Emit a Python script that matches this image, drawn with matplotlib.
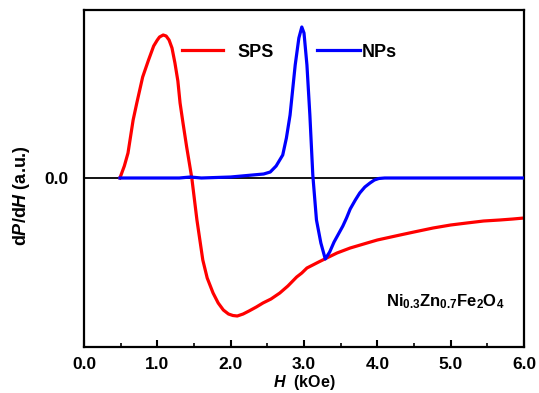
import matplotlib
matplotlib.use("Agg")
import matplotlib.pyplot as plt
from matplotlib.ticker import MultipleLocator

plt.rcParams['font.family'] = ['Liberation Sans', 'DejaVu Sans']
plt.rcParams['mathtext.fontset'] = 'custom'
plt.rcParams['mathtext.rm'] = 'Liberation Sans:bold'
plt.rcParams['mathtext.bf'] = 'Liberation Sans:bold'
plt.rcParams['mathtext.it'] = 'Liberation Sans:italic:bold'

# SPS (red) series
sps_h = [0.49, 0.55, 0.60, 0.67, 0.72, 0.80, 0.88, 0.95, 1.00, 1.03, 1.08, 1.12, 1.16,
         1.20, 1.24, 1.28, 1.31, 1.35, 1.40, 1.47, 1.54, 1.62, 1.68, 1.76, 1.83, 1.90,
         1.97, 2.03, 2.09, 2.17, 2.25, 2.35, 2.44, 2.55, 2.67, 2.78, 2.90, 2.97, 3.04,
         3.12, 3.20, 3.31, 3.45, 3.63, 3.86, 4.00, 4.31, 4.50, 4.76, 5.00, 5.22, 5.45,
         5.67, 5.85, 6.00]
sps_v = [0, 12, 25, 58, 75, 101, 118, 132, 138, 141, 143, 142, 138,
         130, 115, 97, 75, 55, 31, 0, -42, -82, -100, -115, -125, -132,
         -136, -137.5, -138, -136, -133, -129, -125, -121, -115, -108, -99, -95, -90,
         -87, -84, -80, -75, -70, -65, -62, -57, -54, -50, -47, -45, -43,
         -42, -41, -40]

# NPs (blue) series
nps_h = [0.49, 1.30, 1.45, 1.60, 2.00, 2.30, 2.45, 2.54, 2.62, 2.71, 2.76, 2.81, 2.88,
         2.93, 2.97, 3.00, 3.04, 3.08, 3.12, 3.17, 3.23, 3.29, 3.35, 3.41, 3.47, 3.53,
         3.58, 3.63, 3.70, 3.76, 3.83, 3.90, 3.96, 4.02, 4.10, 6.00]
nps_v = [0, 0, 1, 0, 1, 3, 4, 6, 12, 23, 40, 63, 113,
         140, 151, 145, 113, 63, 3, -42, -65, -81, -74, -64, -56, -48,
         -40, -31, -22, -15, -9, -5, -2, -0.5, 0, 0]

xticks = [0, 1, 2, 3, 4, 5, 6]
xticklabels = ['0.0', '1.0', '2.0', '3.0', '4.0', '5.0', '6.0']

fig = plt.figure(figsize=(5.39, 3.93), dpi=100)
ax = fig.add_axes([84/539, 1-347/393, 440/539, 337/393])

ax.axhline(0, color='black', lw=1.3, zorder=1)
l1, = ax.plot(sps_h, sps_v, color='#ff0000', lw=2.3, zorder=2, label='SPS',
              solid_joinstyle='round')
l2, = ax.plot(nps_h, nps_v, color='#0000ff', lw=2.3, zorder=3, label='NPs',
              solid_joinstyle='round')

ax.set_xlim(0, 6)
ax.set_ylim(-169, 168)

ax.set_xticks(xticks)
ax.set_xticklabels(xticklabels)
ax.xaxis.set_minor_locator(MultipleLocator(0.5))
ax.set_yticks([0])
ax.set_yticklabels(['0.0'])
ax.tick_params(axis='x', which='major', direction='in', length=5, width=1.5, pad=7,
               labelsize=12.5, top=False)
ax.tick_params(axis='x', which='minor', direction='in', length=3, width=1.2, top=False)
ax.tick_params(axis='y', which='both', length=0, pad=11, labelsize=12.5, right=False)
for lab in ax.get_xticklabels() + ax.get_yticklabels():
    lab.set_fontweight('bold')

for s in ax.spines.values():
    s.set_linewidth(1.6)

ax.set_xlabel(r'$\mathit{H}$  (kOe)', fontsize=11.5, fontweight='bold')
ax.xaxis.set_label_coords(0.5, -0.078)
ax.set_ylabel(r'd$\mathit{P}$/d$\mathit{H}$ (a.u.)', fontsize=13, fontweight='bold')
ax.yaxis.set_label_coords(-0.118, 0.45)

leg1 = ax.legend(handles=[l1], loc='center left', bbox_to_anchor=(0.2227, 0.875),
                 frameon=False, borderpad=0, borderaxespad=0, handlelength=2.28,
                 handletextpad=0.78, prop={'size': 13, 'weight': 'bold'})
ax.add_artist(leg1)
ax.legend(handles=[l2], loc='center left', bbox_to_anchor=(0.5295, 0.875),
          frameon=False, borderpad=0, borderaxespad=0, handlelength=2.4,
          handletextpad=0.1, prop={'size': 13, 'weight': 'bold'})

ax.text(0.82, 0.134, r'Ni$_{0.3}$Zn$_{0.7}$Fe$_2$O$_4$', transform=ax.transAxes,
        ha='center', va='center', fontsize=12, fontweight='bold')

fig.savefig('out.png', dpi=100)
